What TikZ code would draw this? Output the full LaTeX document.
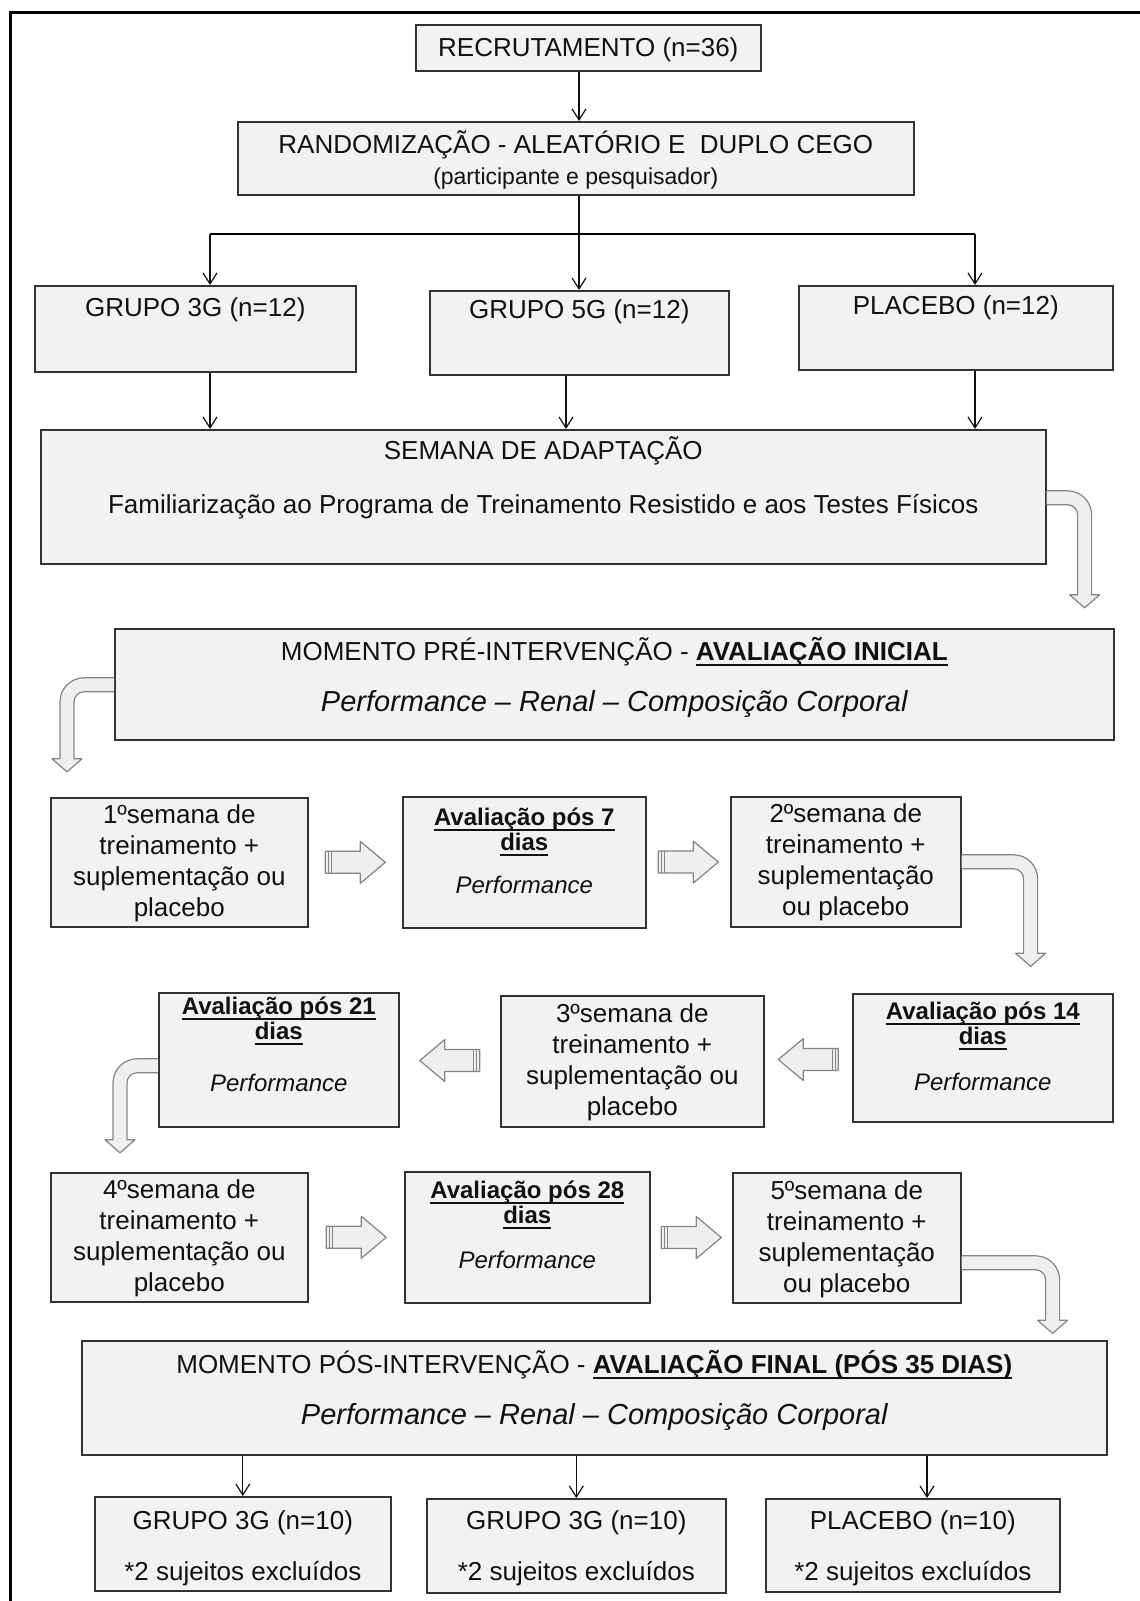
\documentclass[tikz,border=0pt]{standalone}
\usepackage{fontspec}
\setmainfont{Liberation Sans}
\usepackage{tikz}
\usetikzlibrary{positioning, arrows.meta, calc}
\definecolor{ink}{HTML}{111111}
\definecolor{boxfill}{HTML}{F2F2F2}
\definecolor{boxline}{HTML}{333333}
\definecolor{arrfill}{HTML}{EFEFEF}
\definecolor{arrline}{HTML}{858585}
\newsavebox{\ulbox}
\newcommand{\tl}[1]{\begin{tabular}[t]{@{}c@{}}#1\end{tabular}}
\newcommand{\ubf}[1]{\sbox{\ulbox}{\textbf{#1}}\rlap{\rule[-2.6pt]{\wd\ulbox}{1.1pt}}\usebox{\ulbox}}
\newcommand{\perf}[1]{{\fontsize{#1}{15.5}\selectfont\itshape Performance – Renal – Composição Corporal}}
% bent block arrow: anchor, band offset, run, drop, direction (1 right, -1 left)
\newcommand{\bendarrow}[5]{%
  \draw[blk, shift={#1}] (0,#2-7) -- ({(#5)*(#3-17)},#2-7)
    arc[start angle=-90, end angle={-90+(#5)*90}, radius=24]
    -- ({(#5)*(#3+7)},#4-13) -- ({(#5)*(#3+15)},#4-13) -- ({(#5)*(#3)},#4)
    -- ({(#5)*(#3-15)},#4-13) -- ({(#5)*(#3-7)},#4-13)
    -- ({(#5)*(#3-7)},#2+17)
    arc[start angle={-90+(#5)*90}, end angle=-90, radius=10]
    -- (0,#2+7);}
\tikzset{
  box/.style={draw=boxline, line width=0.8pt, fill=boxfill, text=ink,
    anchor=north west, inner xsep=0pt, inner ysep=0pt,
    font=\fontsize{13}{15.5}\selectfont},
  evalbox/.style={box, font=\fontsize{12}{15.5}\selectfont},
  conn/.style={-{Straight Barb[length=5.5pt, width=7pt]}, line width=0.6pt, color=ink},
  blk/.style={draw=arrline, fill=arrfill, line width=0.6pt, line join=round},
  frame/.style={line width=1.5pt, color=black},
  barrow/.pic={
    \draw[blk] (-30,-11) -- (5,-11) -- (5,-21) -- (30,0) -- (5,21) -- (5,11) -- (-30,11) -- cycle;
    \draw[blk] (-27,-11) -- (-27,11) (-24,-11) -- (-24,11);
  },
}

\begin{document}
\begin{tikzpicture}[x=0.5pt, y=-0.5pt]
  \useasboundingbox (0,0) rectangle (1140,1601);
  \draw[frame] (10,1601) -- (10,12) -- (1140,12);

  % top: recruitment and groups
  \node[box, minimum width=172.5pt, text height=16pt, text depth=7pt] (rec) at (415,24) {RECRUTAMENTO (n=36)};
  \node[box, minimum width=338pt, text height=16pt, text depth=20.5pt] (rand) at (237,121)
    {\tl{RANDOMIZAÇÃO - ALEATÓRIO E\ \ DUPLO CEGO\\{\fontsize{11.5}{14}\selectfont (participante e pesquisador)}}};
  \node[box, minimum width=160.5pt, text height=15.5pt, text depth=27.5pt] (g3) at (34,285) {GRUPO 3G (n=12)};
  \node[box, minimum width=149.5pt, text height=14pt, text depth=28pt] (g5) at (429,290) {GRUPO 5G (n=12)};
  \node[box, minimum width=157pt, text height=14.5pt, text depth=27.5pt] (pl) at (798,285) {PLACEBO (n=12)};
  \node[box, minimum width=502.5pt, text height=15pt, text depth=52pt] (sem) at (40,429)
    {\tl{SEMANA DE ADAPTAÇÃO\\[11.5pt]Familiarização ao Programa de Treinamento Resistido e aos Testes Físicos}};
  \node[box, minimum width=499.5pt, text height=16pt, text depth=39.5pt] (pre) at (114,628)
    {\tl{MOMENTO PRÉ-INTERVENÇÃO - \ubf{AVALIAÇÃO INICIAL}\\[10pt]\perf{14.5}}};

  \coordinate (split) at (579,234);
  \coordinate (jl) at (210,234);
  \coordinate (jr) at (975,234);
  \coordinate (c2) at (566,0);
  \draw[conn] (rec.south -| split) -- (rand.north -| split);
  \draw[conn] (rand.south -| split) -- (g5.north -| split);
  \draw[line width=0.8pt] (jl) -- (jr);
  \draw[conn] (jl) -- (jl |- g3.north);
  \draw[conn] (jr) -- (jr |- pl.north);
  \draw[conn] (g3.south -| jl) -- (sem.north -| jl);
  \draw[conn] (g5.south -| c2) -- (sem.north -| c2);
  \draw[conn] (pl.south -| jr) -- (sem.north -| jr);

  % weekly cycle
  \node[box, minimum width=128.5pt, text height=13pt, text depth=51.5pt] (r1a) at (50,797)
    {\tl{1ºsemana de\\treinamento +\\suplementação ou\\placebo}};
  \node[evalbox, minimum width=121.5pt, text height=14.5pt, text depth=51pt] (r1b) at (402,796)
    {\tl{\ubf{Avaliação pós 7}\\[-3pt]\ubf{dias}\\[6pt]\textit{Performance}}};
  \node[box, minimum width=115pt, text height=13pt, text depth=52pt] (r1c) at (730,796)
    {\tl{2ºsemana de\\treinamento +\\suplementação\\ou placebo}};

  \node[evalbox, minimum width=120pt, text height=11pt, text depth=56pt] (r2a) at (158,992)
    {\tl{\ubf{Avaliação pós 21}\\[-3pt]\ubf{dias}\\[10.5pt]\textit{Performance}}};
  \node[box, minimum width=131.5pt, text height=13.5pt, text depth=52pt] (r2b) at (500,995)
    {\tl{3ºsemana de\\treinamento +\\suplementação ou\\placebo}};
  \node[evalbox, minimum width=130pt, text height=13pt, text depth=51pt] (r2c) at (852,993)
    {\tl{\ubf{Avaliação pós 14}\\[-3pt]\ubf{dias}\\[7.5pt]\textit{Performance}}};

  \node[box, minimum width=128.5pt, text height=13pt, text depth=51.5pt] (r3a) at (50,1172)
    {\tl{4ºsemana de\\treinamento +\\suplementação ou\\placebo}};
  \node[evalbox, minimum width=122.5pt, text height=13.5pt, text depth=52pt] (r3b) at (404,1171)
    {\tl{\ubf{Avaliação pós 28}\\[-3pt]\ubf{dias}\\[7pt]\textit{Performance}}};
  \node[box, minimum width=114pt, text height=13.5pt, text depth=51.5pt] (r3c) at (732,1172)
    {\tl{5ºsemana de\\treinamento +\\suplementação\\ou placebo}};

  \pic at ($(r1a.east)!0.5!(r1b.west)$) {barrow};
  \pic at ($(r1b.east)!0.5!(r1c.west)$) {barrow};
  \pic[rotate=180] at ($(r2a.east)!0.5!(r2b.west)$) {barrow};
  \pic[rotate=180] at ($(r2b.east)!0.5!(r2c.west)$) {barrow};
  \pic at ($(r3a.east)!0.5!(r3b.west)$) {barrow};
  \pic at ($(r3b.east)!0.5!(r3c.west)$) {barrow};

  \bendarrow{(sem.east)}{1}{38}{111}{1}
  \bendarrow{(pre.west)}{0.5}{47}{87.5}{-1}
  \bendarrow{(r1c.east)}{0}{69}{104.5}{1}
  \bendarrow{(r2a.west)}{6}{38}{93}{-1}
  \bendarrow{(r3c.east)}{25}{91}{95.5}{1}

  % end of protocol
  \node[box, minimum width=512.5pt, text height=16.5pt, text depth=40.5pt] (pos) at (81,1340)
    {\tl{MOMENTO PÓS-INTERVENÇÃO - \ubf{AVALIAÇÃO FINAL (PÓS 35 DIAS)}\\[10pt]\perf{14.5}}};
  \node[box, minimum width=148pt, text height=16.5pt, text depth=30.5pt] (b1) at (94,1496)
    {\tl{GRUPO 3G (n=10)\\[10pt]*2 sujeitos excluídos}};
  \node[box, minimum width=149.5pt, text height=15.5pt, text depth=31.5pt] (b2) at (426,1498)
    {\tl{GRUPO 3G (n=10)\\[10pt]*2 sujeitos excluídos}};
  \node[box, minimum width=147pt, text height=15.5pt, text depth=31pt] (b3) at (765,1498)
    {\tl{PLACEBO (n=10)\\[10pt]*2 sujeitos excluídos}};

  \coordinate (c3) at (927,0);
  \draw[conn] (pos.south -| b1.north) -- (b1.north);
  \draw[conn] (pos.south -| b2.north) -- (b2.north);
  \draw[conn] (pos.south -| c3) -- (b3.north -| c3);
\end{tikzpicture}
\end{document}
